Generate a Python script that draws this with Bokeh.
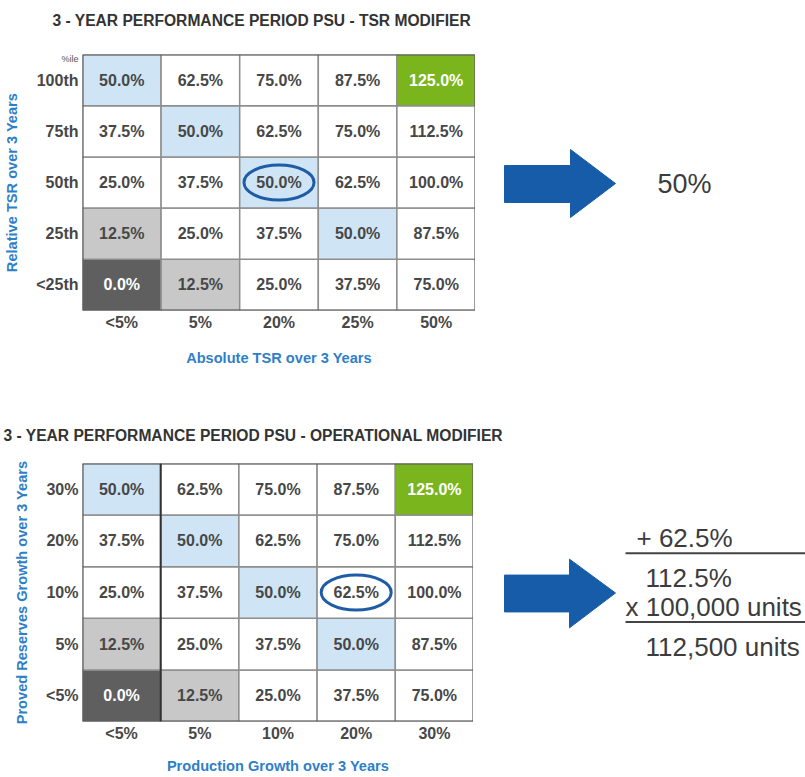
from bokeh.plotting import figure
from bokeh.models import Range1d, FixedTicker, LinearAxis, ColumnDataSource
from bokeh.layouts import column, row
from bokeh.embed import file_html
from bokeh.resources import INLINE
from bokeh.core.properties import value

# ---------------- data ----------------
tsr_cols = ["<5%", "5%", "20%", "25%", "50%"]
tsr_rows = ["<25th", "25th", "50th", "75th", "100th"]          # bottom -> top
op_cols = ["<5%", "5%", "10%", "20%", "30%"]
op_rows = ["<5%", "5%", "10%", "20%", "30%"]                   # bottom -> top

# payout modifier (%) per row, bottom row first, columns left -> right
tsr_payout = [
    [0.0, 12.5, 25.0, 37.5, 75.0],
    [12.5, 25.0, 37.5, 50.0, 87.5],
    [25.0, 37.5, 50.0, 62.5, 100.0],
    [37.5, 50.0, 62.5, 75.0, 112.5],
    [50.0, 62.5, 75.0, 87.5, 125.0],
]
op_payout = [
    [0.0, 12.5, 25.0, 37.5, 75.0],
    [12.5, 25.0, 37.5, 50.0, 87.5],
    [25.0, 37.5, 50.0, 62.5, 100.0],
    [37.5, 50.0, 62.5, 75.0, 112.5],
    [50.0, 62.5, 75.0, 87.5, 125.0],
]
tsr_selected = ("20%", "50th")
op_selected = ("20%", "10%")
tsr_title = "3 - YEAR PERFORMANCE PERIOD PSU - TSR MODIFIER"
op_title = "3 - YEAR PERFORMANCE PERIOD PSU - OPERATIONAL MODIFIER"
tsr_row_unit = "%ile"
tsr_result = "50%"
op_calc = ["+ 62.5%", "112.5%", "x 100,000 units", "112,500 units"]

# ---------------- styles ----------------
FONT = value("Liberation Sans")
BLUE_AX = "#2f7fc8"
ARROW = "#175ca8"
TXT = "#474747"
FILLS = {0.0: "#5f5f5f", 12.5: "#c8c8c8", 50.0: "#cfe5f5", 125.0: "#7ab51d"}
WHITE_TXT = {0.0, 125.0}
PAGE_W = 805


def blank(fig):
    fig.outline_line_color = None
    fig.xgrid.visible = False
    fig.ygrid.visible = False
    fig.background_fill_color = "white"
    fig.border_fill_color = "white"


def make_strip(top_px, bottom_px, text, text_x, text_y):
    s = figure(width=PAGE_W, height=bottom_px - top_px, output_backend="svg",
               toolbar_location=None, x_axis_type=None, y_axis_type=None,
               x_range=Range1d(0, PAGE_W), y_range=Range1d(bottom_px, top_px),
               min_border=0, min_border_left=0, min_border_right=0,
               min_border_top=0, min_border_bottom=0)
    blank(s)
    s.text(x=[text_x], y=[text_y], text=[text], text_align="left", text_baseline="middle",
           text_font=FONT, text_font_style="bold", text_font_size="15.6px",
           text_color="#333333")
    return s


def style_axis(ax):
    ax.axis_line_color = None
    ax.major_tick_line_color = None
    ax.minor_tick_line_color = None
    ax.major_tick_out = 0
    ax.major_tick_in = 0
    ax.minor_tick_out = 0
    ax.minor_tick_in = 0
    ax.major_label_text_font = "Liberation Sans"


def make_grid(cols, rows, payout, selected, xlabel, ylabel,
              top_px, bottom_px, frame_left, frame_right, frame_top, frame_bottom,
              xlabel_standoff):
    p = figure(width=frame_right, height=bottom_px - top_px, output_backend="svg",
               toolbar_location=None,
               x_range=Range1d(-0.5, 4.5), y_range=Range1d(-0.5, 4.5),
               min_border_left=frame_left, min_border_right=0,
               min_border_top=frame_top - top_px, min_border_bottom=bottom_px - frame_bottom)
    blank(p)

    xs, ys, fills, labels, tcs = [], [], [], [], []
    for r, rw in enumerate(payout):
        for c, v in enumerate(rw):
            xs.append(c)
            ys.append(r)
            fills.append(FILLS.get(v, "white"))
            labels.append(f"{v:.1f}%")
            tcs.append("white" if v in WHITE_TXT else TXT)
    src = ColumnDataSource(dict(x=xs, y=ys, fill=fills, label=labels, tc=tcs))
    p.rect(x="x", y="y", width=1, height=1, fill_color="fill", line_color="#8e8e8e",
           line_width=1.5, source=src)
    p.rect(x=2, y=2, width=5, height=5, fill_color=None, line_color="#555555", line_width=2)
    p.text(x="x", y="y", text="label", text_color="tc", text_align="center",
           text_baseline="middle", text_font=FONT, text_font_style="bold",
           text_font_size="16px", source=src)

    cw = (frame_right - frame_left) / 5.0
    ch = (frame_bottom - frame_top) / 5.0
    sc = cols.index(selected[0])
    sr = rows.index(selected[1])
    p.ellipse(x=sc, y=sr, width=70 / cw, height=35 / ch, fill_color=None,
              line_color="#1f5ca6", line_width=3)

    for ax, labs, lab in ((p.xaxis, cols, xlabel), (p.yaxis, rows, ylabel)):
        style_axis(ax)
        ax.ticker = FixedTicker(ticks=list(range(5)))
        ax.major_label_overrides = {i: t for i, t in enumerate(labs)}
        ax.major_label_text_font_style = "bold"
        ax.major_label_text_font_size = "16px"
        ax.major_label_text_color = TXT
        ax.axis_label = lab
        ax.axis_label_text_font = "Liberation Sans"
        ax.axis_label_text_font_style = "bold"
        ax.axis_label_text_font_size = "14.6px"
        ax.axis_label_text_color = BLUE_AX
    p.xaxis.major_label_standoff = 3
    p.xaxis.axis_label_standoff = xlabel_standoff
    p.yaxis.major_label_standoff = 4
    p.yaxis.axis_label_standoff = 13
    p.yaxis.major_label_orientation = "horizontal"
    return p


def make_side(left_px, top_px, bottom_px, frame_top, frame_bottom):
    # in a row, this plot's frame is aligned with the grid's frame
    s = figure(width=PAGE_W - left_px, height=bottom_px - top_px, output_backend="svg",
               toolbar_location=None, x_axis_type=None, y_axis_type=None,
               x_range=Range1d(left_px, PAGE_W), y_range=Range1d(frame_bottom, frame_top),
               min_border=0, min_border_left=0, min_border_right=0,
               min_border_top=frame_top - top_px, min_border_bottom=bottom_px - frame_bottom)
    blank(s)
    return s


# ---------------- top block ----------------
t1 = make_strip(0, 40, tsr_title, 52, 20)
p1 = make_grid(tsr_cols, tsr_rows, tsr_payout, tsr_selected,
               "Absolute TSR over 3 Years", "Relative TSR over 3 Years",
               40, 400, 82, 475, 54, 310, 16)
# small "%ile" unit note at the top-left corner of the grid (an extra axis above);
# trailing non-breaking spaces push the centred label left of the grid edge
p1.extra_x_ranges = {"unit": Range1d(0, 5)}
unit_axis = LinearAxis(x_range_name="unit")
style_axis(unit_axis)
unit_axis.ticker = FixedTicker(ticks=[0])
unit_axis.major_label_overrides = {0: tsr_row_unit + "\u00a0" * 10}
unit_axis.major_label_text_font_size = "9px"
unit_axis.major_label_text_color = "#555555"
unit_axis.major_label_standoff = -9
p1.add_layout(unit_axis, "above")

s1 = make_side(475, 40, 400, 54, 310)
a1x = [504, 570, 570, 615, 570, 570, 504]
a1y = [165, 165, 149, 183, 217, 202, 202]
s1.patch(a1x, a1y, fill_color=ARROW, line_color=ARROW)
s1.text(x=[657], y=[183], text=[tsr_result], text_align="left",
        text_baseline="middle", text_font=FONT, text_font_size="27px", text_color="#3c3c3c")

# ---------------- bottom block ----------------
t2 = make_strip(400, 450, op_title, 3, 435)
p2 = make_grid(op_cols, op_rows, op_payout, op_selected,
               "Production Growth over 3 Years", "Proved Reserves Growth over 3 Years",
               450, 776, 82, 473, 463, 722, 13)
p2.segment(x0=[0.5], y0=[-0.5], x1=[0.5], y1=[4.5], line_color="#333333", line_width=2)
s2 = make_side(473, 450, 776, 463, 722)
a2x = [504, 569, 569, 615, 569, 569, 504]
a2y = [575, 575, 559, 593, 628, 612, 612]
s2.patch(a2x, a2y, fill_color=ARROW, line_color=ARROW)
s2.text(x=[636, 645, 625, 645], y=[538, 578, 607, 647], text=op_calc,
        text_align="left", text_baseline="middle", text_font=FONT, text_font_size="26px",
        text_color="#3c3c3c")
s2.segment(x0=[625, 625], y0=[553, 622], x1=[805, 805], y1=[553, 622],
           line_color="#444444", line_width=2)

layout = column(t1, row(p1, s1, spacing=0), t2, row(p2, s2, spacing=0), spacing=0)
open("out.html", "w").write(file_html(layout, INLINE))
